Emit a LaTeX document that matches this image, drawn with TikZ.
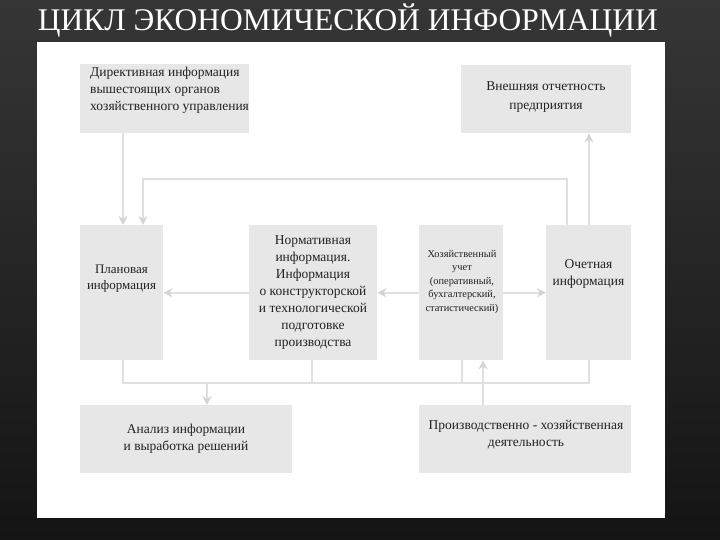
\documentclass[tikz,border=0pt]{standalone}
\usepackage{fontspec}
\setmainfont{Liberation Serif}
\newfontfamily\lserif{Liberation Serif}
\usetikzlibrary{arrows.meta,calc}
\definecolor{bgtop}{HTML}{363636}
\definecolor{bgbot}{HTML}{141414}
\definecolor{boxfill}{HTML}{E7E7E7}
\definecolor{linecol}{HTML}{E0E0E0}
\definecolor{tipcol}{HTML}{D4D4D4}
\definecolor{txt}{HTML}{222222}
\tikzset{
  box/.style={fill=boxfill, draw=none, inner sep=0pt, anchor=north west},
  lbl/.style={text=txt, align=center, inner sep=0pt, font=\lserif\fontsize{13.5}{17}\selectfont},
  conn/.style={draw=linecol, line width=2pt},
  arr/.style={conn, -{Stealth[length=9pt,width=9pt,color=tipcol]}}
}
\begin{document}
\begin{tikzpicture}[x=1pt,y=-1pt]
\useasboundingbox (0,0) rectangle (720,540);
\shade[top color=bgtop, bottom color=bgbot] (0,0) rectangle (720,540);
\node[text=white, font=\lserif\fontsize{31.5}{31.5}\selectfont, inner sep=0pt] (title) at (348,21) {ЦИКЛ ЭКОНОМИЧЕСКОЙ ИНФОРМАЦИИ};
\fill[white] (37,42) rectangle (665,518);
% boxes
\node[box, minimum width=169, minimum height=69] (dir) at (80,64) {};
\node[box, minimum width=170, minimum height=68] (ext) at (461,65) {};
\node[box, minimum width=83, minimum height=135] (plan) at (80,225) {};
\node[box, minimum width=128, minimum height=135] (norm) at (249,225) {};
\node[box, minimum width=84, minimum height=135] (khoz) at (419,225) {};
\node[box, minimum width=85, minimum height=135] (och) at (546,225) {};
\node[box, minimum width=212, minimum height=68] (anal) at (80,405) {};
\node[box, minimum width=212, minimum height=68] (prod) at (419,405) {};
% texts
\node[lbl, align=left, anchor=north west] (tdir) at (90,67) {Директивная информация\\вышестоящих органов\\хозяйственного управления};
\node[lbl, font=\lserif\fontsize{13.5}{19}\selectfont] (text) at (546,97.5) {Внешняя отчетность\\предприятия};
\node[lbl, font=\lserif\fontsize{13}{16}\selectfont] (tplan) at (121.5,279) {Плановая\\информация};
\node[lbl, font=\lserif\fontsize{13.5}{16.9}\selectfont] (tnorm) at (313,292.5) {Нормативная\\информация.\\Информация\\о конструкторской\\и технологической\\подготовке\\производства};
\node[lbl, font=\lserif\fontsize{10.4}{13.5}\selectfont] (tkhoz) at (462,282) {Хозяйственный\\учет\\(оперативный,\\бухгалтерский,\\статистический)};
\node[lbl] (toch) at (588.5,274) {Очетная\\информация};
\node[lbl] (tanal) at (186,439) {Анализ информации\\и выработка решений};
\node[lbl] (tprod) at (526,435) {Производственно - хозяйственная\\деятельность};
% connectors
\draw[arr] ([xshift=43pt]dir.south west) -- ([xshift=43pt]plan.north west);
\draw[arr] ([xshift=21pt]och.north west) -- ++(0,-46) -| ([xshift=63pt]plan.north west);
\draw[arr] ([xshift=43pt]och.north west) -- ([xshift=128pt]ext.south west);
\draw[arr] (norm.west) -- (plan.east);
\draw[arr] (khoz.west) -- (norm.east);
\draw[arr] (khoz.east) -- (och.west);
\draw[conn] ([xshift=43pt]plan.south west) -- ++(0,23) -| ([xshift=43pt]och.south west);
\draw[conn] ([xshift=-1pt]norm.south) -- ++(0,23);
\draw[conn] ([xshift=43pt]khoz.south west) -- ++(0,23);
\coordinate (busdrop) at ([xshift=127pt,yshift=22pt]anal.north west);
\draw[arr] (busdrop) -- ([xshift=127pt]anal.north west);
\draw[arr] ([xshift=64pt]prod.north west) -- ([xshift=64pt]khoz.south west);
\end{tikzpicture}
\end{document}
